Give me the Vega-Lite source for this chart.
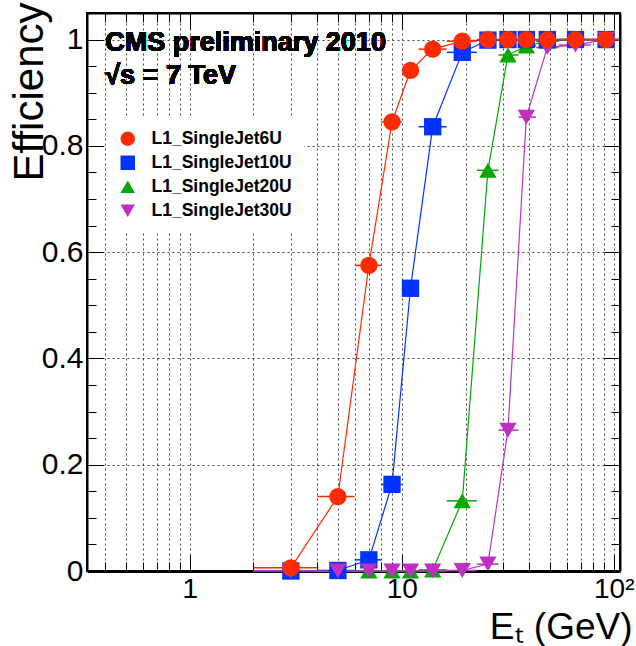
{
  "$schema": "https://vega.github.io/schema/vega-lite/v6.json",
  "width": 533,
  "height": 558,
  "autosize": "none",
  "padding": {"left": 87, "top": 13, "right": 16, "bottom": 75},
  "background": "white",
  "config": {"view": {"stroke": "black", "strokeWidth": 2}, "font": "Liberation Sans",
    "legend": {"orient": "none", "legendX": 20, "legendY": 105, "padding": 12, "title": null,
      "fillColor": "white", "strokeColor": null,
      "labelFontSize": 17.5, "labelFontWeight": "bold", "labelColor": "black", "labelFont": "Liberation Sans",
      "symbolSize": 210, "labelOffset": 15, "rowPadding": 5, "symbolStrokeWidth": 0}},
  "data": {"values": [
    {"series": "L1_SingleJet20U", "e": 3, "elo": 2, "ehi": 4, "eff": 0},
    {"series": "L1_SingleJet20U", "e": 5, "elo": 4, "ehi": 6, "eff": 0},
    {"series": "L1_SingleJet20U", "e": 7, "elo": 6, "ehi": 8, "eff": 0},
    {"series": "L1_SingleJet20U", "e": 9, "elo": 8, "ehi": 10, "eff": 0},
    {"series": "L1_SingleJet20U", "e": 11, "elo": 10, "ehi": 12, "eff": 0},
    {"series": "L1_SingleJet20U", "e": 14, "elo": 12, "ehi": 16.3, "eff": 0.002},
    {"series": "L1_SingleJet20U", "e": 19.3, "elo": 16.3, "ehi": 22.6, "eff": 0.132},
    {"series": "L1_SingleJet20U", "e": 25.5, "elo": 22.6, "ehi": 28.6, "eff": 0.754},
    {"series": "L1_SingleJet20U", "e": 31.7, "elo": 28.6, "ehi": 35.6, "eff": 0.971},
    {"series": "L1_SingleJet20U", "e": 38.7, "elo": 35.6, "ehi": 43, "eff": 0.988},
    {"series": "L1_SingleJet20U", "e": 48.6, "elo": 43, "ehi": 55, "eff": 0.997},
    {"series": "L1_SingleJet20U", "e": 66, "elo": 55, "ehi": 78, "eff": 1.0},
    {"series": "L1_SingleJet20U", "e": 92, "elo": 78, "ehi": 106, "eff": 1.0},
    {"series": "L1_SingleJet10U", "e": 3, "elo": 2, "ehi": 4, "eff": 0},
    {"series": "L1_SingleJet10U", "e": 5, "elo": 4, "ehi": 6, "eff": 0.001},
    {"series": "L1_SingleJet10U", "e": 7, "elo": 6, "ehi": 8, "eff": 0.021},
    {"series": "L1_SingleJet10U", "e": 9, "elo": 8, "ehi": 10, "eff": 0.163},
    {"series": "L1_SingleJet10U", "e": 11, "elo": 10, "ehi": 12, "eff": 0.532},
    {"series": "L1_SingleJet10U", "e": 14, "elo": 12, "ehi": 16.3, "eff": 0.836},
    {"series": "L1_SingleJet10U", "e": 19.3, "elo": 16.3, "ehi": 22.6, "eff": 0.976},
    {"series": "L1_SingleJet10U", "e": 25.5, "elo": 22.6, "ehi": 28.6, "eff": 0.999},
    {"series": "L1_SingleJet10U", "e": 31.7, "elo": 28.6, "ehi": 35.6, "eff": 1.0},
    {"series": "L1_SingleJet10U", "e": 38.7, "elo": 35.6, "ehi": 43, "eff": 1.0},
    {"series": "L1_SingleJet10U", "e": 48.6, "elo": 43, "ehi": 55, "eff": 1.0},
    {"series": "L1_SingleJet10U", "e": 66, "elo": 55, "ehi": 78, "eff": 1.0},
    {"series": "L1_SingleJet10U", "e": 92, "elo": 78, "ehi": 106, "eff": 1.0},
    {"series": "L1_SingleJet30U", "e": 3, "elo": 2, "ehi": 4, "eff": 0},
    {"series": "L1_SingleJet30U", "e": 5, "elo": 4, "ehi": 6, "eff": 0},
    {"series": "L1_SingleJet30U", "e": 7, "elo": 6, "ehi": 8, "eff": 0},
    {"series": "L1_SingleJet30U", "e": 9, "elo": 8, "ehi": 10, "eff": 0},
    {"series": "L1_SingleJet30U", "e": 11, "elo": 10, "ehi": 12, "eff": 0},
    {"series": "L1_SingleJet30U", "e": 14, "elo": 12, "ehi": 16.3, "eff": 0},
    {"series": "L1_SingleJet30U", "e": 19.3, "elo": 16.3, "ehi": 22.6, "eff": 0.001},
    {"series": "L1_SingleJet30U", "e": 25.5, "elo": 22.6, "ehi": 28.6, "eff": 0.013},
    {"series": "L1_SingleJet30U", "e": 31.7, "elo": 28.6, "ehi": 35.6, "eff": 0.265},
    {"series": "L1_SingleJet30U", "e": 38.7, "elo": 35.6, "ehi": 43, "eff": 0.854},
    {"series": "L1_SingleJet30U", "e": 48.6, "elo": 43, "ehi": 55, "eff": 0.985},
    {"series": "L1_SingleJet30U", "e": 66, "elo": 55, "ehi": 78, "eff": 0.99},
    {"series": "L1_SingleJet30U", "e": 92, "elo": 78, "ehi": 106, "eff": 1.0},
    {"series": "L1_SingleJet6U", "e": 3, "elo": 2, "ehi": 4, "eff": 0.006},
    {"series": "L1_SingleJet6U", "e": 5, "elo": 4, "ehi": 6, "eff": 0.14},
    {"series": "L1_SingleJet6U", "e": 7, "elo": 6, "ehi": 8, "eff": 0.575},
    {"series": "L1_SingleJet6U", "e": 9, "elo": 8, "ehi": 10, "eff": 0.845},
    {"series": "L1_SingleJet6U", "e": 11, "elo": 10, "ehi": 12, "eff": 0.942},
    {"series": "L1_SingleJet6U", "e": 14, "elo": 12, "ehi": 16.3, "eff": 0.982},
    {"series": "L1_SingleJet6U", "e": 19.3, "elo": 16.3, "ehi": 22.6, "eff": 0.997},
    {"series": "L1_SingleJet6U", "e": 25.5, "elo": 22.6, "ehi": 28.6, "eff": 1.0},
    {"series": "L1_SingleJet6U", "e": 31.7, "elo": 28.6, "ehi": 35.6, "eff": 1.0},
    {"series": "L1_SingleJet6U", "e": 38.7, "elo": 35.6, "ehi": 43, "eff": 1.0},
    {"series": "L1_SingleJet6U", "e": 48.6, "elo": 43, "ehi": 55, "eff": 1.0},
    {"series": "L1_SingleJet6U", "e": 66, "elo": 55, "ehi": 78, "eff": 1.0},
    {"series": "L1_SingleJet6U", "e": 92, "elo": 78, "ehi": 106, "eff": 1.0}
  ]},
  "resolve": {"axis": {"x": "independent", "y": "independent"}},
  "layer": [
    {
      "mark": {"type": "line", "strokeWidth": 1.2},
      "encoding": {
        "x": {"field": "e", "type": "quantitative",
          "scale": {"type": "log", "domain": [0.328, 107], "nice": false, "zero": false},
          "axis": {
            "orient": "bottom",
            "values": [0.4,0.5,0.6,0.7,0.8,0.9,1,2,3,4,5,6,7,8,9,10,20,30,40,50,60,70,80,90,100],
            "labelExpr": "datum.value==1 ? '1' : datum.value==10 ? '10' : datum.value==100 ? '10²' : ''",
            "labelFontSize": 28, "labelColor": "black", "labelPadding": 20, "labelFont": "Liberation Sans",
            "labelOverlap": false, "labelFlush": false,
            "grid": true, "gridDash": [2, 3], "gridColor": "#444", "gridWidth": 1,
            "tickSize": {"condition": {"test": "datum.value==1 || datum.value==10 || datum.value==100", "value": -16}, "value": -9},
            "tickColor": "black", "tickWidth": 1,
            "domainColor": "black", "domainWidth": 3,
            "title": "Eₜ (GeV)", "titleFontSize": 37, "titleFontWeight": "normal", "titleColor": "black",
            "titleFont": "Liberation Sans",
            "titleAnchor": "end", "titleAlign": "right", "titleBaseline": "middle", "titleX": 545, "titleY": 56
          }},
        "y": {"field": "eff", "type": "quantitative",
          "scale": {"domain": [0, 1.05], "nice": false, "zero": false},
          "axis": {
            "orient": "left",
            "values": [0,0.05,0.1,0.15,0.2,0.25,0.3,0.35,0.4,0.45,0.5,0.55,0.6,0.65,0.7,0.75,0.8,0.85,0.9,0.95,1.0],
            "labelExpr": "abs(datum.value*5 - round(datum.value*5)) < 0.001 ? format(datum.value, '~g') : ''",
            "labelFontSize": 30, "labelColor": "black", "labelPadding": 20, "labelFont": "Liberation Sans",
            "labelOverlap": false, "labelFlush": false,
            "grid": true, "gridDash": [2, 3], "gridColor": "#444", "gridWidth": 1,
            "gridOpacity": {"condition": {"test": "abs(datum.value*5 - round(datum.value*5)) < 0.001", "value": 1}, "value": 0},
            "tickSize": {"condition": {"test": "abs(datum.value*5 - round(datum.value*5)) < 0.001", "value": -16}, "value": -9},
            "tickColor": "black", "tickWidth": 1,
            "domainColor": "black", "domainWidth": 2,
            "title": "Efficiency", "titleFontSize": 42, "titleFontWeight": "normal", "titleColor": "black",
            "titleFont": "Liberation Sans",
            "titleAngle": -90, "titleAnchor": "end", "titleAlign": "right", "titleBaseline": "middle", "titleX": -58, "titleY": -11
          }},
        "color": {"field": "series", "type": "nominal",
          "scale": {"domain": ["L1_SingleJet6U","L1_SingleJet10U","L1_SingleJet20U","L1_SingleJet30U"], "range": ["#ff2a00","#0033ff","#00a800","#c030c0"]}},
        "order": {"field": "e", "type": "quantitative"}
      }
    },
    {
      "mark": {"type": "rule", "strokeWidth": 1.5},
      "encoding": {
        "x": {"field": "elo", "type": "quantitative", "scale": {"type": "log", "domain": [0.328, 107], "nice": false, "zero": false}, "axis": null},
        "x2": {"field": "ehi"},
        "y": {"field": "eff", "type": "quantitative", "scale": {"domain": [0, 1.05], "nice": false, "zero": false}, "axis": null},
        "color": {"field": "series", "type": "nominal",
          "scale": {"domain": ["L1_SingleJet6U","L1_SingleJet10U","L1_SingleJet20U","L1_SingleJet30U"], "range": ["#ff2a00","#0033ff","#00a800","#c030c0"]}}
      }
    },
    {
      "mark": {"type": "point", "filled": true, "opacity": 1, "size": 300},
      "encoding": {
        "x": {"field": "e", "type": "quantitative",
          "scale": {"type": "log", "domain": [0.328, 107], "nice": false, "zero": false},
          "axis": {"orient": "top", "values": [0.4,0.5,0.6,0.7,0.8,0.9,1,2,3,4,5,6,7,8,9,10,20,30,40,50,60,70,80,90,100],
            "labels": false, "grid": false, "title": null, "domainColor": "black", "domainWidth": 2,
            "tickSize": {"condition": {"test": "datum.value==1 || datum.value==10 || datum.value==100", "value": -16}, "value": -9},
            "tickColor": "black", "tickWidth": 1}},
        "y": {"field": "eff", "type": "quantitative",
          "scale": {"domain": [0, 1.05], "nice": false, "zero": false},
          "axis": {"orient": "right",
            "values": [0,0.05,0.1,0.15,0.2,0.25,0.3,0.35,0.4,0.45,0.5,0.55,0.6,0.65,0.7,0.75,0.8,0.85,0.9,0.95,1.0],
            "labels": false, "grid": false, "title": null, "domainColor": "black", "domainWidth": 2,
            "tickSize": {"condition": {"test": "abs(datum.value*5 - round(datum.value*5)) < 0.001", "value": -16}, "value": -9},
            "tickColor": "black", "tickWidth": 1}},
        "color": {"field": "series", "type": "nominal",
          "scale": {"domain": ["L1_SingleJet6U","L1_SingleJet10U","L1_SingleJet20U","L1_SingleJet30U"], "range": ["#ff2a00","#0033ff","#00a800","#c030c0"]}},
        "shape": {"field": "series", "type": "nominal",
          "scale": {"domain": ["L1_SingleJet6U","L1_SingleJet10U","L1_SingleJet20U","L1_SingleJet30U"], "range": ["circle","square","triangle-up","triangle-down"]}}
      }
    },
    {
      "mark": {"type": "text", "align": "left", "baseline": "middle", "fontSize": 27, "fontWeight": "bold", "font": "Liberation Sans", "color": "black"},
      "encoding": {
        "x": {"datum": 0.4, "type": "quantitative", "scale": {"type": "log", "domain": [0.328, 107], "nice": false, "zero": false}, "axis": null},
        "y": {"datum": 0.994, "type": "quantitative", "scale": {"domain": [0, 1.05], "nice": false, "zero": false}, "axis": null},
        "text": {"value": "CMS preliminary 2010"}
      }
    },
    {
      "mark": {"type": "text", "align": "left", "baseline": "middle", "fontSize": 27, "fontWeight": "bold", "font": "Liberation Sans", "color": "black"},
      "encoding": {
        "x": {"datum": 0.4, "type": "quantitative", "scale": {"type": "log", "domain": [0.328, 107], "nice": false, "zero": false}, "axis": null},
        "y": {"datum": 0.932, "type": "quantitative", "scale": {"domain": [0, 1.05], "nice": false, "zero": false}, "axis": null},
        "text": {"value": "√s = 7 TeV"}
      }
    }
  ]
}
